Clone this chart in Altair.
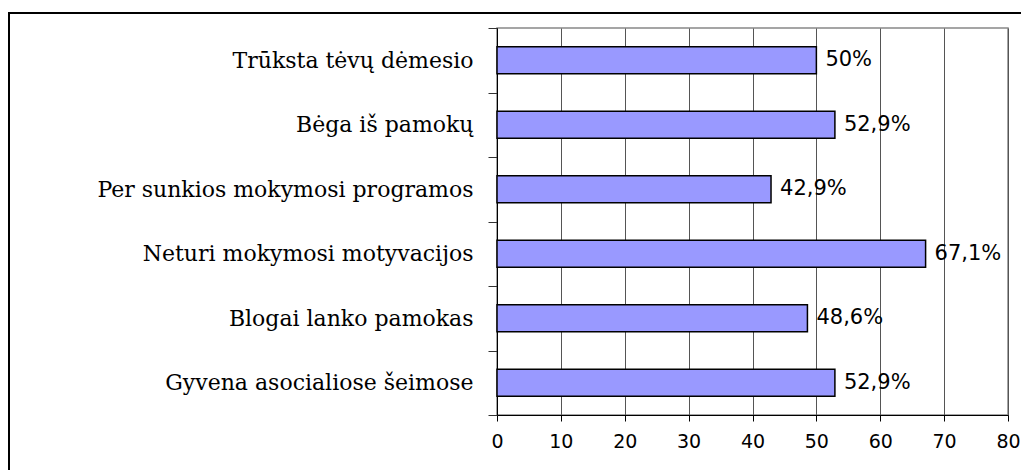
import altair as alt
import pandas as pd

categories = [
    "Trūksta tėvų dėmesio",
    "Bėga iš pamokų",
    "Per sunkios mokymosi programos",
    "Neturi mokymosi motyvacijos",
    "Blogai lanko pamokas",
    "Gyvena asocialiose šeimose",
]
values = [50, 52.9, 42.9, 67.1, 48.6, 52.9]
value_labels = ["50%", "52,9%", "42,9%", "67,1%", "48,6%", "52,9%"]
x_ticks = [0, 10, 20, 30, 40, 50, 60, 70, 80]

df = pd.DataFrame({"cat": categories, "val": values, "lab": value_labels})

W, H = 511, 387

y_enc = alt.Y(
    "cat:N",
    sort=categories,
    title=None,
    scale=alt.Scale(paddingInner=0, paddingOuter=0),
    axis=alt.Axis(
        tickBand="extent",
        tickSize=9,
        tickColor="#333333",
        domainColor="black",
        domainWidth=1,
        labelFont="DejaVu Serif",
        labelFontSize=22,
        labelColor="black",
        labelPadding=15,
        labelLimit=0,
        grid=False,
    ),
)
x_enc = alt.X(
    "val:Q",
    title=None,
    scale=alt.Scale(domain=[0, 80], nice=False),
    axis=alt.Axis(
        values=x_ticks,
        grid=True,
        gridColor="#555555",
        gridWidth=1,
        tickSize=6,
        tickColor="black",
        domainColor="black",
        labelFont="DejaVu Sans",
        labelFontSize=19,
        labelColor="black",
        labelPadding=11,
        labelFlush=False,
    ),
)

bars = alt.Chart(df).mark_bar(
    height={"band": 0.42}, color="#9999FF", stroke="black", strokeWidth=1.5
).encode(x=x_enc, y=y_enc)

text = alt.Chart(df).mark_text(
    align="left", baseline="middle", dx=9, font="DejaVu Sans", fontSize=21, color="black"
).encode(x="val:Q", y=alt.Y("cat:N", sort=categories), text="lab:N")

one = alt.Data(values=[{}])
frame_top = alt.Chart(one).mark_rule(color="black", strokeWidth=2).encode(
    x=alt.value(-488), x2=alt.value(W + 13), y=alt.value(-15)
)
frame_left = alt.Chart(one).mark_rule(color="black", strokeWidth=2).encode(
    x=alt.value(-488), y=alt.value(-16), y2=alt.value(H + 60)
)

chart = (
    alt.layer(bars, text, frame_top, frame_left)
    .properties(
        width=W,
        height=H,
        autosize="none",
        padding={"left": 489, "top": 20, "right": 13, "bottom": 55},
        background="white",
    )
    .configure_view(stroke="#888888", strokeWidth=1.5)
)

chart.save("out.html", embed_options={"renderer": "svg", "actions": False})
